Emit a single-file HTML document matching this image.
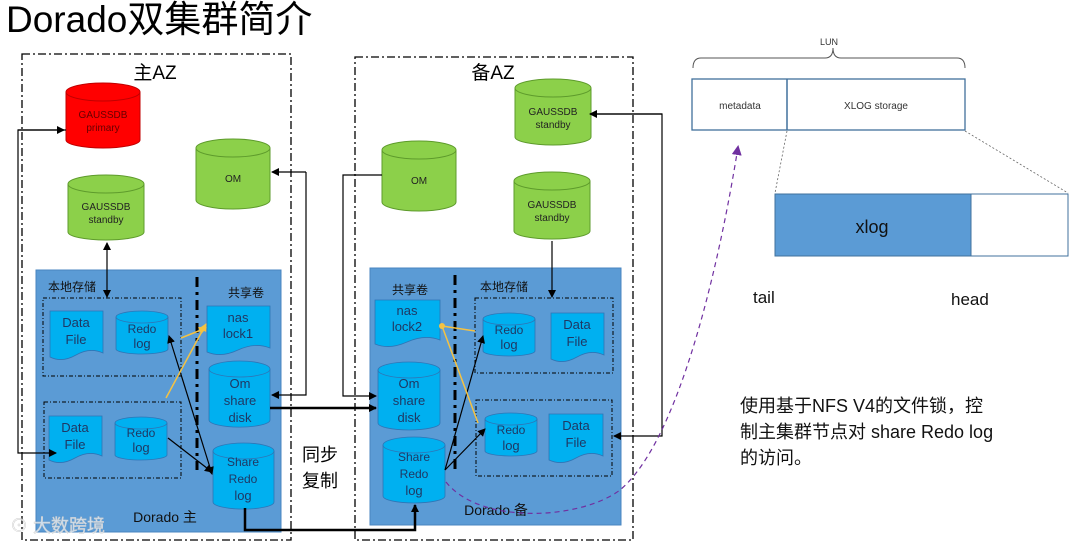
<!DOCTYPE html>
<html><head><meta charset="utf-8"><style>
html,body{margin:0;padding:0;background:#fff;}
svg{display:block;font-family:"Liberation Sans","Noto Sans CJK SC",sans-serif;}
</style></head><body>
<svg width="1080" height="546" viewBox="0 0 1080 546" xmlns="http://www.w3.org/2000/svg">
<defs>
<marker id="a" markerWidth="8" markerHeight="8" refX="7" refY="4" orient="auto" markerUnits="userSpaceOnUse"><path d="M0,0 L8,4 L0,8z" fill="#000"/></marker>
<marker id="as" markerWidth="8" markerHeight="8" refX="1" refY="4" orient="auto" markerUnits="userSpaceOnUse"><path d="M8,0 L0,4 L8,8z" fill="#000"/></marker>
<marker id="ay" markerWidth="8" markerHeight="8" refX="7" refY="4" orient="auto" markerUnits="userSpaceOnUse"><path d="M0,0 L8,4 L0,8z" fill="#f5c242"/></marker>
<marker id="ap" markerWidth="10" markerHeight="10" refX="8" refY="5" orient="auto" markerUnits="userSpaceOnUse"><path d="M0,0 L10,5 L0,10z" fill="#7030a0"/></marker>
</defs>
<text x="6" y="32" font-size="37" fill="#000">Dorado双集群简介</text>
<rect x="22" y="54" width="269" height="486" fill="none" stroke="#000" stroke-width="1.3" stroke-dasharray="8,3,2,3"/>
<rect x="355" y="57" width="278" height="483" fill="none" stroke="#000" stroke-width="1.3" stroke-dasharray="8,3,2,3"/>
<text x="155" y="79" font-size="19" text-anchor="middle">主AZ</text>
<text x="493" y="79" font-size="19" text-anchor="middle">备AZ</text>
<rect x="36" y="270" width="245" height="262" fill="#5b9bd5" stroke="#4a86c0"/>
<rect x="370" y="268" width="251" height="257" fill="#5b9bd5" stroke="#4a86c0"/>
<g font-size="10" text-anchor="middle" fill="#222">
<g fill="#ff0000" stroke="#c00000"><path d="M66,92 v48 a37,8 0 0 0 74,0 v-48"/><ellipse cx="103" cy="92" rx="37" ry="9"/></g>
<text x="103" y="118" fill="#600">GAUSSDB</text><text x="103" y="131" fill="#600">primary</text>
<g fill="#8cd04a" stroke="#5e9b2c"><path d="M68,184 v48 a38,8 0 0 0 76,0 v-48"/><ellipse cx="106" cy="184" rx="38" ry="9"/></g>
<text x="106" y="210">GAUSSDB</text><text x="106" y="223">standby</text>
<g fill="#8cd04a" stroke="#5e9b2c"><path d="M196,148 v52 a37,9 0 0 0 74,0 v-52"/><ellipse cx="233" cy="148" rx="37" ry="9"/></g>
<text x="233" y="182">OM</text>
<g fill="#8cd04a" stroke="#5e9b2c"><path d="M515,88 v49 a38,8 0 0 0 76,0 v-49"/><ellipse cx="553" cy="88" rx="38" ry="9"/></g>
<text x="553" y="115">GAUSSDB</text><text x="553" y="128">standby</text>
<g fill="#8cd04a" stroke="#5e9b2c"><path d="M382,150 v52 a37,9 0 0 0 74,0 v-52"/><ellipse cx="419" cy="150" rx="37" ry="9"/></g>
<text x="419" y="184">OM</text>
<g fill="#8cd04a" stroke="#5e9b2c"><path d="M514,181 v50 a38,8 0 0 0 76,0 v-50"/><ellipse cx="552" cy="181" rx="38" ry="9"/></g>
<text x="552" y="208">GAUSSDB</text><text x="552" y="221">standby</text>
</g>
<g fill="none" stroke="#000" stroke-width="1" stroke-dasharray="4,2,1,2">
<rect x="43" y="298" width="138" height="78"/><rect x="44" y="402" width="137" height="76"/>
<rect x="475" y="298" width="138" height="75"/><rect x="476" y="400" width="136" height="76"/>
</g>
<g stroke="#000" stroke-width="3" stroke-dasharray="10,5,3,5"><line x1="197" y1="277" x2="197" y2="470"/><line x1="455" y1="275" x2="455" y2="470"/></g>
<g font-size="12" fill="#111">
<text x="48" y="291">本地存储</text><text x="228" y="297">共享卷</text>
<text x="392" y="294">共享卷</text><text x="480" y="291">本地存储</text>
</g>
<g fill="#00b0f0" stroke="#2e75b6" stroke-width="0.8">
<path d="M50,311 h53 v42 q-13,-6 -27,2 t-26,2 z"/>
<path d="M49,416 h53 v40 q-13,-6 -27,2 t-26,2 z"/>
<path d="M207,306 h63 v42 q-15,-6 -32,2 t-31,2 z"/>
<path d="M375,300 h65 v40 q-15,-6 -33,2 t-32,2 z"/>
<path d="M551,313 h53 v42 q-13,-6 -27,2 t-26,2 z"/>
<path d="M549,414 h54 v42 q-13,-6 -27,2 t-27,2 z"/>
</g>
<g fill="#00b0f0" stroke="#2e75b6" stroke-width="0.8">
<path d="M116,317 v32 a26,5 0 0 0 52,0 v-32"/><ellipse cx="142" cy="317" rx="26" ry="6"/>
<path d="M115,423 v32 a26,5 0 0 0 52,0 v-32"/><ellipse cx="141" cy="423" rx="26" ry="6"/>
<path d="M483,319 v32 a26,5 0 0 0 52,0 v-32"/><ellipse cx="509" cy="319" rx="26" ry="6"/>
<path d="M485,419 v32 a26,5 0 0 0 52,0 v-32"/><ellipse cx="511" cy="419" rx="26" ry="6"/>
<path d="M209,369 v51 a30,7 0 0 0 61,0 v-51"/><ellipse cx="239.5" cy="369" rx="30.5" ry="8"/>
<path d="M213,451 v51 a30,7 0 0 0 61,0 v-51"/><ellipse cx="243.5" cy="451" rx="30.5" ry="8"/>
<path d="M378,370 v53 a31,7 0 0 0 62,0 v-53"/><ellipse cx="409" cy="370" rx="31" ry="8"/>
<path d="M383,445 v51 a31,7 0 0 0 62,0 v-51"/><ellipse cx="414" cy="445" rx="31" ry="8"/>
</g>
<g font-size="13" text-anchor="middle" fill="#1f3864">
<text x="76" y="327">Data</text><text x="76" y="344">File</text>
<text x="75" y="432">Data</text><text x="75" y="449">File</text>
<text x="577" y="329">Data</text><text x="577" y="346">File</text>
<text x="576" y="430">Data</text><text x="576" y="447">File</text>
<text x="142" y="333" font-size="12">Redo</text><text x="142" y="348">log</text>
<text x="141" y="437" font-size="12">Redo</text><text x="141" y="452">log</text>
<text x="509" y="334" font-size="12">Redo</text><text x="509" y="349">log</text>
<text x="511" y="434" font-size="12">Redo</text><text x="511" y="450">log</text>
<text x="238" y="322">nas</text><text x="238" y="338">lock1</text>
<text x="407" y="315">nas</text><text x="407" y="331">lock2</text>
<text x="240" y="388">Om</text><text x="240" y="405">share</text><text x="240" y="422">disk</text>
<text x="409" y="388">Om</text><text x="409" y="405">share</text><text x="409" y="422">disk</text>
<text x="243" y="466" font-size="12">Share</text><text x="243" y="483" font-size="12">Redo</text><text x="243" y="500">log</text>
<text x="414" y="461" font-size="12">Share</text><text x="414" y="478" font-size="12">Redo</text><text x="414" y="495">log</text>
</g>
<text x="165" y="522" font-size="14" text-anchor="middle" fill="#111">Dorado 主</text>
<text x="496" y="515" font-size="14" text-anchor="middle" fill="#111">Dorado 备</text>
<text x="320" y="461" font-size="18" text-anchor="middle">同步</text>
<text x="320" y="487" font-size="18" text-anchor="middle">复制</text>
<g fill="none" stroke="#000" stroke-width="1.2">
<path d="M66,130 H18 V453 H56" marker-end="url(#a)"/>
<path d="M18,130 H64" marker-end="url(#a)"/>
<line x1="107" y1="243" x2="107" y2="297" marker-start="url(#as)" marker-end="url(#a)"/>
<path d="M306,172 V395 H272" marker-end="url(#a)"/>
<path d="M306,172 H272" marker-end="url(#a)"/>
<path d="M382,175 H343 V396 H376" marker-end="url(#a)"/>
<path d="M590,114 H662 V436 H614" marker-end="url(#a)"/>
<path d="M590,114 H662" marker-start="url(#as)"/>
<line x1="552" y1="241" x2="552" y2="297" marker-end="url(#a)"/>
<line x1="169" y1="336" x2="212" y2="474" marker-start="url(#as)" marker-end="url(#a)"/>
<line x1="168" y1="438" x2="212" y2="472" marker-end="url(#a)"/>
<line x1="445" y1="470" x2="483" y2="336" marker-end="url(#a)"/>
<line x1="445" y1="470" x2="485" y2="429" marker-end="url(#a)"/>
</g>
<g fill="none" stroke="#000" stroke-width="2.5">
<path d="M270,408 H376" marker-end="url(#a)"/>
<path d="M245,508 V530 H415 V505" marker-end="url(#a)"/>
</g>
<g fill="none" stroke="#f5c242" stroke-width="1.5">
<line x1="181" y1="338" x2="206" y2="328" marker-end="url(#ay)"/>
<line x1="166" y1="398" x2="206" y2="324" marker-end="url(#ay)"/>
<line x1="475" y1="331" x2="442" y2="326"/>
<line x1="478" y1="423" x2="442" y2="326"/>
</g>
<circle cx="442" cy="326" r="3" fill="#f5c242"/>
<path d="M446,482 C480,525 580,520 620,490 C680,440 720,260 738,147" fill="none" stroke="#7030a0" stroke-width="1.2" stroke-dasharray="5,4" marker-end="url(#ap)"/>
<text x="829" y="45" font-size="9" text-anchor="middle" fill="#333">LUN</text>
<path d="M693,68 q0,-10 8,-10 H825 q8,0 8,-10 q0,10 8,10 H957 q8,0 8,10" fill="none" stroke="#555" stroke-width="1"/>
<rect x="692" y="79" width="273" height="51" fill="#fff" stroke="#41719c" stroke-width="1.3"/>
<line x1="787" y1="79" x2="787" y2="130" stroke="#41719c" stroke-width="1.5"/>
<text x="740" y="109" font-size="10" text-anchor="middle" fill="#333">metadata</text>
<text x="876" y="109" font-size="10" text-anchor="middle" fill="#333">XLOG storage</text>
<g stroke="#666" stroke-width="0.8" stroke-dasharray="2,2"><line x1="787" y1="131" x2="775" y2="193"/><line x1="965" y1="131" x2="1068" y2="193"/></g>
<rect x="775" y="194" width="196" height="62" fill="#5b9bd5" stroke="#41719c"/>
<rect x="971" y="194" width="97" height="62" fill="#fff" stroke="#41719c"/>
<text x="872" y="233" font-size="18" text-anchor="middle" fill="#111">xlog</text>
<text x="753" y="303" font-size="17" fill="#111">tail</text>
<text x="951" y="305" font-size="17" fill="#111">head</text>
<g font-size="18" fill="#111">
<text x="740" y="412">使用基于NFS V4的文件锁，控</text>
<text x="740" y="438">制主集群节点对 share Redo log</text>
<text x="740" y="464">的访问。</text>
</g>
<text x="10" y="532" font-size="18" fill="#fff" fill-opacity="0.7" stroke="#ccc" stroke-width="0.5">⊙ 大数跨境</text>
</svg>
</body></html>
